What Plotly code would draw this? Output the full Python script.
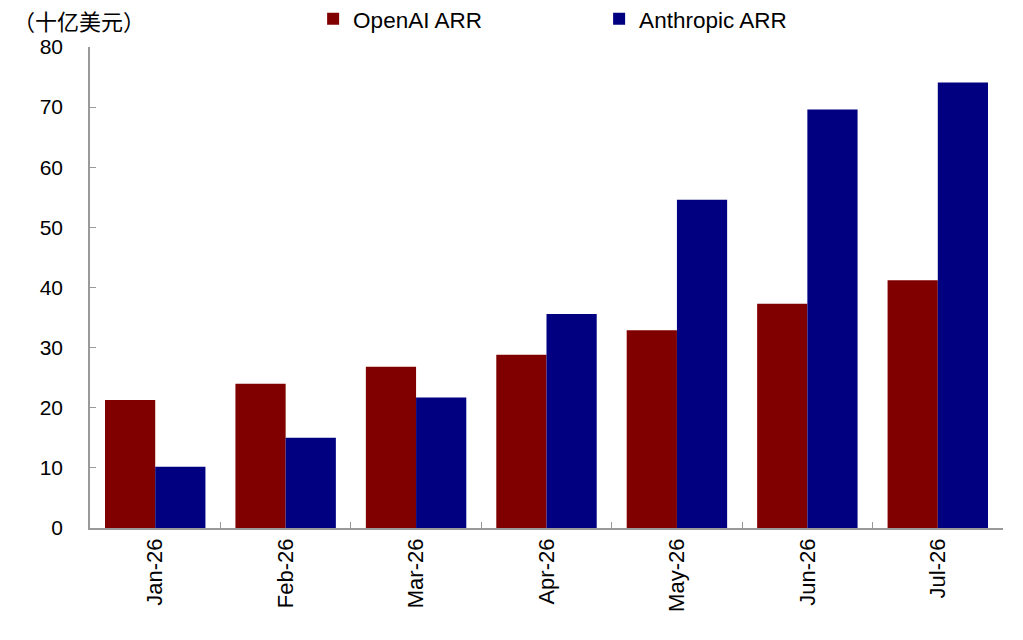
import plotly.graph_objects as go

# 数据（十亿美元）
months = ["Jan-26", "Feb-26", "Mar-26", "Apr-26", "May-26", "Jun-26", "Jul-26"]
openai_arr = [21.3, 24.0, 26.8, 28.8, 32.9, 37.3, 41.2]
anthropic_arr = [10.2, 15.0, 21.7, 35.6, 54.6, 69.6, 74.1]

font_family = "Liberation Sans, Arial, sans-serif"

fig = go.Figure()
fig.add_trace(go.Bar(x=months, y=openai_arr, name="OpenAI ARR",
                     marker=dict(color="#800000", line=dict(width=0))))
fig.add_trace(go.Bar(x=months, y=anthropic_arr, name="Anthropic ARR",
                     marker=dict(color="#000080", line=dict(width=0))))

# 页面 body 有 8px 外边距，尺寸和边距已经扣掉
fig.update_layout(
    width=1007,
    height=624,
    autosize=False,
    barmode="group",
    bargap=0.23,
    bargroupgap=0,
    plot_bgcolor="white",
    paper_bgcolor="white",
    margin=dict(l=82, r=12, t=39, b=104, autoexpand=False),
    font=dict(family=font_family, size=21, color="black"),
    legend=dict(
        orientation="h",
        x=0.303, xref="container", xanchor="left",
        y=1.058, yref="paper", yanchor="middle",
        entrywidth=241, entrywidthmode="pixels",
        font=dict(size=22.5),
        bgcolor="rgba(0,0,0,0)",
    ),
)

fig.update_xaxes(
    tickangle=-90,
    showline=True, linecolor="#999999", linewidth=1.5,
    ticks="inside", tickson="boundaries", ticklen=6, tickcolor="#999999",
    showgrid=False, automargin=False,
    tickfont=dict(size=22),
)
fig.update_yaxes(
    range=[0, 80], dtick=10,
    showline=True, linecolor="#999999", linewidth=1.5,
    ticks="inside", ticklen=6, tickcolor="#999999",
    showgrid=False, zeroline=False, automargin=False,
    tickfont=dict(size=21),
    ticklabelstandoff=21,
)

fig.add_annotation(
    text="（十亿美元）", xref="paper", yref="paper",
    x=-0.0854, y=1.0, xanchor="left", yanchor="middle", yshift=25,
    height=24, valign="middle", borderpad=0,
    showarrow=False,
    font=dict(family="Liberation Sans, Noto Sans CJK SC", size=22, color="black"),
)

fig.write_html("out.html")
